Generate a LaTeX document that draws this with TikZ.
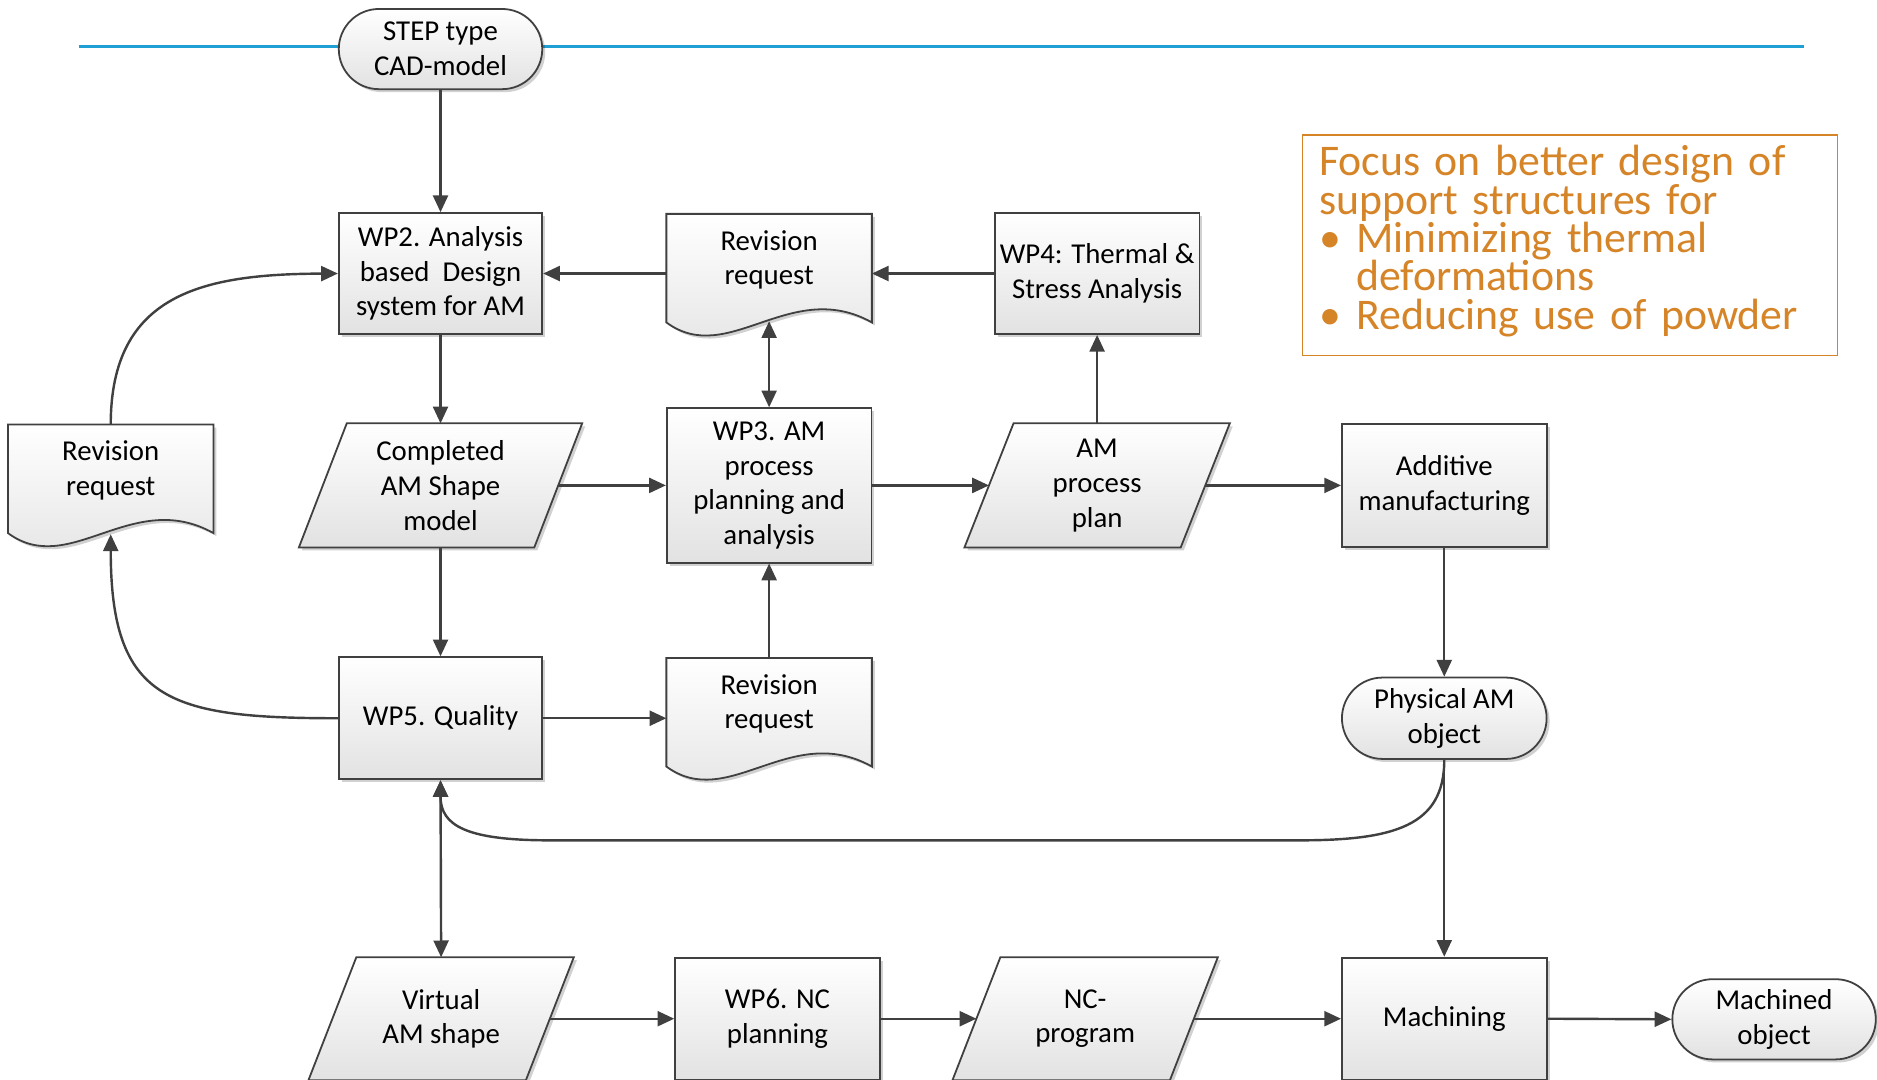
\documentclass[tikz,border=0pt]{standalone}
\usepackage{fontspec}
\setmainfont{Carlito}
\usetikzlibrary{arrows.meta,shapes.misc,shadows,backgrounds,calc}
\definecolor{linec}{RGB}{64,64,64}
\definecolor{shadec}{RGB}{226,226,226}
\definecolor{bluec}{RGB}{30,160,212}
\definecolor{orangec}{RGB}{214,132,40}
\newcommand{\docpath}[1]{%
  \path[outline] (#1.north west) -- (#1.north east) -- ($(#1.south east)+(0,14)$)
    .. controls ($(#1.south east)+(-68,-24)$) and ($(#1.south east)+(-120,52)$) .. ($(#1.south west)+(0,14)$) -- cycle;}
\newcommand{\parapath}[2]{%
  \path[outline] ($(#1.south west)+(-#2,0)$) -- ($(#1.north west)+(#2,0)$) -- ($(#1.north east)+(#2,0)$) -- ($(#1.south east)+(-#2,0)$) -- cycle;}
\newcommand{\bulletbox}{\leavevmode\hbox to 0.62cm{\char"2022\hfil}}
\newcommand{\indentbox}{\leavevmode\hbox to 0.62cm{\hfil}}
\begin{document}
\begin{tikzpicture}[x=0.02cm,y=-0.02cm,
  mfont/.style={font=\fontsize{13.7}{16.5}\selectfont},
  shd/.style={drop shadow={shadow xshift=0.05cm,shadow yshift=-0.05cm,opacity=0.18,fill=black}},
  fillshade/.style={top color=white,bottom color=shadec},
  box/.style={rectangle,draw=linec,line width=0.85pt,fillshade,shd,align=center,inner sep=0pt,mfont},
  term/.style={rounded rectangle,draw=linec,line width=0.85pt,fillshade,shd,align=center,inner sep=0pt,mfont},
  txt/.style={rectangle,draw=none,align=center,inner sep=0pt,mfont},
  outline/.style={draw=linec,line width=0.85pt,fillshade,shd},
  conn/.style={draw=linec,line width=1.15pt,-{Triangle[length=0.28cm,width=0.25cm]}},
  dconn/.style={draw=linec,line width=1.15pt,{Triangle[length=0.28cm,width=0.25cm]}-{Triangle[length=0.28cm,width=0.25cm]}},
  focusbox/.style={rectangle,draw=orangec,line width=0.8pt,minimum width=8.94cm,minimum height=3.68cm,
    text width=8.38cm,align=left,inner xsep=0.28cm,inner ysep=0pt,text=orangec,
    font=\fontsize{20.8}{18.2}\selectfont}]
\useasboundingbox (0,0) rectangle (1568,902);

% blue rule
\coordinate (bl) at (66,39);
\coordinate (br) at (1507,39);
\draw[bluec,line width=1.3pt] (bl) -- (br);

% nodes
\node[term,minimum width=3.4cm,minimum height=1.34cm] (step) at (368,41) {STEP type\\CAD-model};
\node[box,minimum width=3.4cm,minimum height=2.02cm] (wp2) at (368,228.5) {WP2. Analysis\\based~~Design\\system for AM};
\node[txt,minimum width=3.42cm,minimum height=1.52cm] (rev1) at (642.5,217) {Revision\\request};
\node[box,minimum width=3.42cm,minimum height=2.02cm] (wp4) at (916.5,228.5) {WP4: Thermal \&\\Stress Analysis};
\node[txt,minimum width=3.42cm,minimum height=1.52cm] (rev2) at (92.5,393) {Revision\\request};
\node[txt,minimum width=3.92cm,minimum height=2.06cm] (comp) at (368,405.5) {Completed\\AM Shape\\model};
\node[box,minimum width=3.42cm,minimum height=2.58cm] (wp3) at (642.5,405.5) {WP3. AM\\process\\planning and\\analysis};
\node[txt,minimum width=3.6cm,minimum height=2.06cm] (amp) at (916.5,405.5) {AM\\process\\plan};
\node[box,minimum width=3.42cm,minimum height=2.06cm] (add) at (1206.5,405.5) {Additive\\manufacturing};
\node[box,minimum width=3.4cm,minimum height=2.04cm] (wp5) at (368,600) {WP5. Quality};
\node[txt,minimum width=3.42cm,minimum height=1.52cm] (rev3) at (642.5,588) {Revision\\request};
\node[term,minimum width=3.42cm,minimum height=1.36cm] (phys) at (1206.5,600) {Physical AM\\object};
\node[txt,minimum width=3.62cm,minimum height=2.04cm] (virt) at (368.5,851) {Virtual\\AM shape};
\node[box,minimum width=3.42cm,minimum height=2.04cm] (wp6) at (649.5,851) {WP6. NC\\planning};
\node[txt,minimum width=3.62cm,minimum height=2.04cm] (nc) at (906.5,851) {NC-\\program};
\node[box,minimum width=3.42cm,minimum height=2.04cm] (mach) at (1206.5,851) {Machining};
\node[term,minimum width=3.4cm,minimum height=1.34cm] (mobj) at (1482,851.5) {Machined\\object};

\node[focusbox] (focus) at (1311.5,205) {\lineskiplimit=-30pt\relax Focus on better design of\\support structures for\\\bulletbox Minimizing thermal\\\indentbox deformations\\\bulletbox Reducing use of powder\rule[-0.27cm]{0pt}{0pt}};

% hand-drawn outlines behind text nodes
\begin{scope}[on background layer]
  \docpath{rev1}
  \docpath{rev2}
  \docpath{rev3}
  \parapath{comp}{20}
  \parapath{amp}{20.5}
  \parapath{virt}{20}
  \parapath{nc}{20}
\end{scope}

\coordinate (rev1b) at ($(rev1.south)+(0,13)$);
\coordinate (rev2b) at ($(rev2.south)+(0,15)$);

% connectors
\draw[conn] (step.south) -- (wp2.north);
\draw[conn] (rev1.west |- wp2.east) -- (wp2.east);
\draw[conn] (wp4.west) -- (wp4.west -| rev1.east);
\draw[conn] (amp.north) -- (wp4.south);
\draw[dconn] (rev1b) -- (wp3.north);
\draw[conn] (wp2.south) -- (comp.north);
\draw[conn] (comp.east) -- (wp3.west);
\draw[conn] (wp3.east) -- (amp.west);
\draw[conn] (amp.east) -- (add.west);
\draw[conn] (add.south) -- (phys.north);
\draw[conn] (comp.south) -- (wp5.north);
\draw[conn] (wp5.east) -- (wp5.east -| rev3.west);
\draw[conn] (rev3.north) -- (wp3.south);
\draw[conn] (wp5.west) .. controls (140,600) and (92.5,585) .. (rev2b);
\draw[conn] (rev2.north) .. controls (92.5,245) and (170,229) .. (wp2.west);
\draw[conn] (phys.south) .. controls (1206.5,690) and (1165,702) .. (1085,702) -- (460,702) .. controls (390,702) and (368,690) .. (wp5.south);
\draw[conn] (phys.south) -- (mach.north);
\draw[dconn] (wp5.south) -- (virt.north);
\draw[conn] (virt.east) -- (wp6.west);
\draw[conn] (wp6.east) -- (nc.west);
\draw[conn] (nc.east) -- (mach.west);
\draw[conn] (mach.east) -- (mobj.west);
\end{tikzpicture}
\end{document}
